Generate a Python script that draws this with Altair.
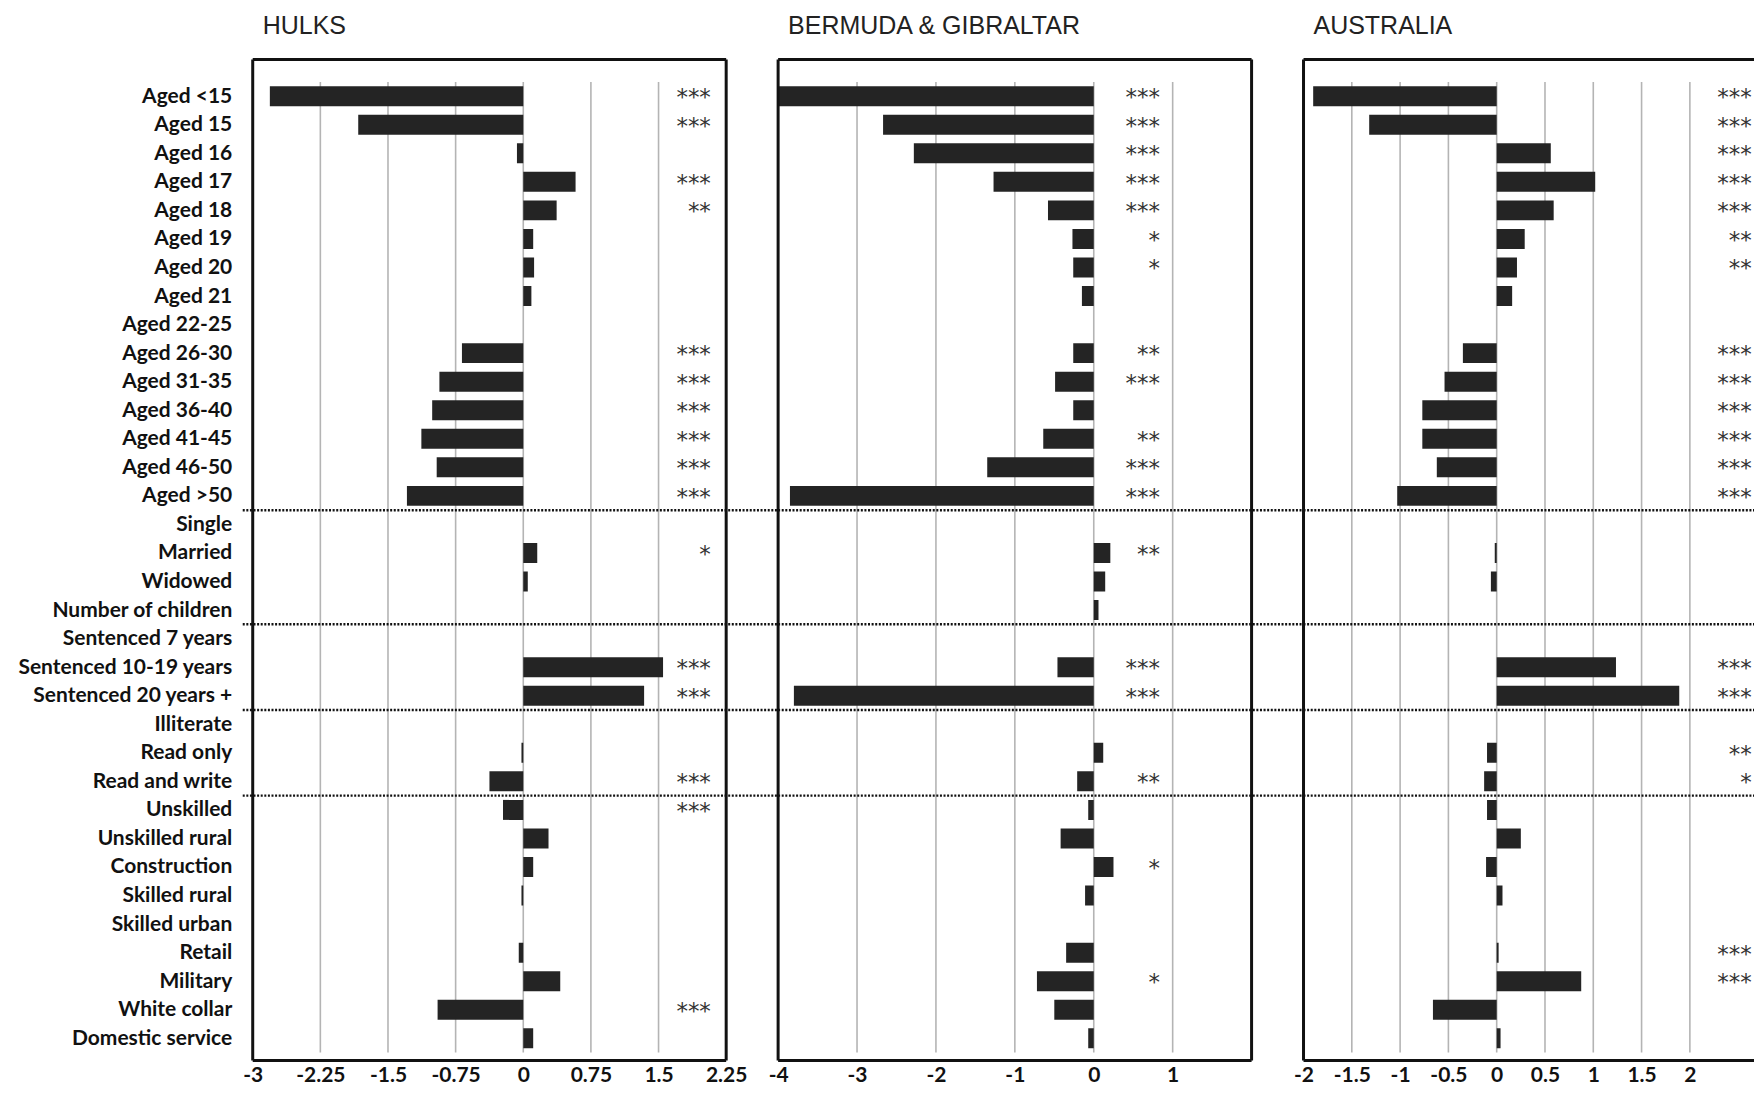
import json
import altair as alt
import pandas as pd

categories = [
    "Aged <15", "Aged 15", "Aged 16", "Aged 17", "Aged 18", "Aged 19", "Aged 20",
    "Aged 21", "Aged 22-25", "Aged 26-30", "Aged 31-35", "Aged 36-40", "Aged 41-45",
    "Aged 46-50", "Aged >50", "Single", "Married", "Widowed", "Number of children",
    "Sentenced 7 years", "Sentenced 10-19 years", "Sentenced 20 years +", "Illiterate",
    "Read only", "Read and write", "Unskilled", "Unskilled rural", "Construction",
    "Skilled rural", "Skilled urban", "Retail", "Military", "White collar",
    "Domestic service",
]

hulks = [-2.81, -1.83, -0.07, 0.58, 0.37, 0.11, 0.12, 0.09, None, -0.68, -0.93, -1.01,
         -1.13, -0.96, -1.29, None, 0.155, 0.05, None, None, 1.55, 1.34, None, -0.02,
         -0.375, -0.225, 0.28, 0.11, -0.02, None, -0.05, 0.41, -0.95, 0.11]
hulks_sig = ["***", "***", "", "***", "**", "", "", "", "", "***", "***", "***", "***",
             "***", "***", "", "*", "", "", "", "***", "***", "", "", "***", "***", "",
             "", "", "", "", "", "***", ""]

bermuda = [-4.1, -2.67, -2.28, -1.27, -0.58, -0.27, -0.26, -0.15, None, -0.26, -0.49,
           -0.26, -0.64, -1.35, -3.85, None, 0.21, 0.145, 0.06, None, -0.46, -3.80, None,
           0.12, -0.21, -0.07, -0.42, 0.25, -0.11, None, -0.35, -0.72, -0.50, -0.07]
bermuda_sig = ["***", "***", "***", "***", "***", "*", "*", "", "", "**", "***", "",
               "**", "***", "***", "", "**", "", "", "", "***", "***", "", "", "**", "",
               "", "*", "", "", "", "*", "", ""]

australia = [-1.90, -1.32, 0.56, 1.02, 0.59, 0.29, 0.21, 0.16, None, -0.35, -0.54, -0.77,
             -0.77, -0.62, -1.03, None, -0.02, -0.06, None, None, 1.235, 1.89, None, -0.10,
             -0.13, -0.10, 0.25, -0.11, 0.06, None, 0.02, 0.875, -0.66, 0.04]
australia_sig = ["***", "***", "***", "***", "***", "**", "**", "", "", "***", "***",
                 "***", "***", "***", "***", "", "", "", "", "", "***", "***", "", "**",
                 "*", "", "", "", "", "", "***", "***", "", ""]

separators = [14.5, 18.5, 21.5, 24.5]

hulks_ticks = [-3, -2.25, -1.5, -0.75, 0, 0.75, 1.5, 2.25]
bermuda_ticks = [-4, -3, -2, -1, 0, 1]
australia_ticks = [-2, -1.5, -1, -0.5, 0, 0.5, 1, 1.5, 2]

H = 1002
SPACING = 52
Y_DOMAIN = [-1.108, 33.6]
GRID_SPAN = [-0.5, 33.5]

label_expr = "[" + ",".join(json.dumps(c) for c in categories) + "][datum.value]"
one = pd.DataFrame({"a": [0]})


def panel(title, values, sig, ticks, domain, width, star_x, first, last):
    xs = alt.Scale(domain=domain, nice=False, zero=False)
    ys = alt.Scale(domain=Y_DOMAIN, reverse=True, nice=False, zero=False)
    xaxis = alt.Axis(values=ticks, labelExpr="'' + datum.value", ticks=False, domain=False,
                     grid=False, labelFlush=False, labelOverlap=False, labelPadding=4,
                     labelFont="Lato", labelFontSize=21, labelFontWeight="bold",
                     labelColor="#111")
    if first:
        yaxis = alt.Axis(values=list(range(len(categories))), labelExpr=label_expr,
                         ticks=False, domain=False, grid=False, labelOverlap=False,
                         labelPadding=21, labelFont="Lato", labelFontSize=21,
                         labelFontWeight="bold", labelColor="#111", labelLimit=400,
                         labelBound=False)
    else:
        yaxis = None

    def X(field):
        return alt.X(field, scale=xs, axis=xaxis, title=None)

    def Y(field):
        return alt.Y(field, scale=ys, axis=yaxis, title=None)

    df = pd.DataFrame({"idx": list(range(len(categories))), "cat": categories,
                       "value": values, "sig": sig})
    bars_df = df.dropna(subset=["value"])
    sig_df = df[df["sig"] != ""]

    grid_df = pd.DataFrame({"t": [t for t in ticks if domain[0] < t < domain[1]],
                            "y0": GRID_SPAN[0], "y1": GRID_SPAN[1]})
    grid = alt.Chart(grid_df).mark_rule(color="#b4b4b4", strokeWidth=1.6).encode(
        x=X("t:Q"), y=Y("y0:Q"), y2="y1:Q")

    bars = alt.Chart(bars_df).mark_bar(orient="horizontal", size=20, color="#242424",
                                       clip=True).encode(
        x=X("value:Q"), x2=alt.datum(0), y=Y("idx:Q"))

    stars = alt.Chart(sig_df).transform_calculate(sx=str(star_x)).mark_text(
        align="right", baseline="middle", font="DejaVu Sans", fontSize=23, color="#333",
        dy=2).encode(x=X("sx:Q"), y=Y("idx:Q"), text="sig:N")

    left_ext = -10 if first else 0
    right_ext = width if last else width + SPACING
    sep = alt.Chart(pd.DataFrame({"s": separators})).mark_rule(
        color="#111", strokeWidth=2.5, strokeDash=[2, 1.6]).encode(
        y=Y("s:Q"), x=alt.value(left_ext), x2=alt.value(right_ext))

    frame_top = alt.Chart(one).mark_rule(color="#111", strokeWidth=3).encode(
        x=alt.value(0), x2=alt.value(width), y=alt.value(0))
    frame_bottom = alt.Chart(one).mark_rule(color="#111", strokeWidth=3).encode(
        x=alt.value(0), x2=alt.value(width), y=alt.value(H))
    frame_left = alt.Chart(one).mark_rule(color="#111", strokeWidth=3).encode(
        x=alt.value(0), y=alt.value(0), y2=alt.value(H))

    layers = [grid, bars, stars, sep, frame_top, frame_bottom, frame_left]
    if not last:
        frame_right = alt.Chart(one).mark_rule(color="#111", strokeWidth=3).encode(
            x=alt.value(width), y=alt.value(0), y2=alt.value(H))
        layers.append(frame_right)
    if first:
        anchor = alt.Chart(one).mark_rule(strokeOpacity=0, strokeWidth=1).encode(
            x=alt.value(-244.7), y=alt.value(500), y2=alt.value(501))
        layers.append(anchor)

    return alt.layer(*layers).properties(
        width=width, height=H,
        title=alt.TitleParams(title, anchor="start", frame="group", dx=10, offset=19,
                              font="Liberation Sans", fontSize=25, fontWeight="normal",
                              color="#222"))


p1 = panel("HULKS", hulks, hulks_sig, hulks_ticks, [-3, 2.25], 474, 2.08, True, False)
p2 = panel("BERMUDA & GIBRALTAR", bermuda, bermuda_sig, bermuda_ticks, [-4, 2], 474, 0.84,
           False, False)
p3 = panel("AUSTRALIA", australia, australia_sig, australia_ticks, [-2, 2.664], 451, 2.64,
           False, True)

chart = alt.hconcat(p1, p2, p3, spacing=SPACING, bounds="flush").configure_view(
    strokeWidth=0).properties(padding={"top": 5, "left": 0, "right": 0, "bottom": 0})

chart.save("out.html", embed_options={"renderer": "svg", "actions": False})
